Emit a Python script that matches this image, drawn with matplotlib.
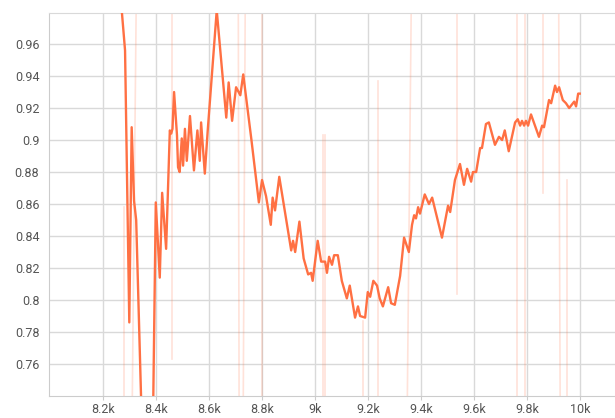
import matplotlib
matplotlib.use("Agg")
import matplotlib.pyplot as plt

plt.rcParams['font.family'] = ['Roboto', 'DejaVu Sans']

# smoothed curve (step, value)
steps = [8266, 8283, 8299, 8308, 8317, 8325, 8375, 8399, 8414, 8423,
         8438, 8452, 8457, 8462, 8468, 8479, 8483, 8489, 8497, 8502,
         8509, 8516, 8528, 8543, 8556, 8565, 8570, 8584, 8595, 8629,
         8665, 8674, 8687, 8702, 8718, 8729, 8760, 8788, 8800, 8815,
         8833, 8840, 8849, 8865, 8910, 8917, 8925, 8941, 8957, 8974,
         8985, 8991, 9010, 9023, 9038, 9045, 9053, 9064, 9072, 9086,
         9101, 9120, 9131, 9151, 9162, 9170, 9189, 9199, 9208, 9220,
         9234, 9244, 9256, 9276, 9287, 9301, 9321, 9336, 9354, 9366,
         9374, 9381, 9389, 9396, 9414, 9430, 9442, 9479, 9502, 9510,
         9528, 9547, 9562, 9574, 9589, 9596, 9608, 9623, 9630, 9645,
         9656, 9679, 9694, 9706, 9716, 9731, 9755, 9765, 9774, 9781,
         9789, 9796, 9804, 9815, 9845, 9857, 9864, 9883, 9891, 9906,
         9913, 9921, 9935, 9947, 9959, 9978, 9985, 9993, 9999]
values = [0.990, 0.956, 0.786, 0.908, 0.862, 0.850, 0.550, 0.861, 0.814, 0.867,
          0.832, 0.906, 0.904, 0.907, 0.930, 0.903, 0.883, 0.880, 0.901, 0.884,
          0.907, 0.887, 0.915, 0.881, 0.906, 0.887, 0.911, 0.879, 0.906, 0.981,
          0.914, 0.936, 0.912, 0.933, 0.928, 0.941, 0.900, 0.861, 0.875, 0.865,
          0.847, 0.864, 0.856, 0.877, 0.831, 0.837, 0.830, 0.849, 0.826, 0.816,
          0.817, 0.812, 0.837, 0.824, 0.824, 0.817, 0.827, 0.822, 0.828, 0.828,
          0.812, 0.801, 0.809, 0.789, 0.796, 0.790, 0.789, 0.805, 0.802, 0.812,
          0.809, 0.801, 0.796, 0.808, 0.798, 0.797, 0.815, 0.839, 0.830, 0.847,
          0.853, 0.851, 0.858, 0.854, 0.866, 0.860, 0.864, 0.839, 0.859, 0.855,
          0.875, 0.885, 0.872, 0.882, 0.874, 0.880, 0.880, 0.895, 0.895, 0.910,
          0.911, 0.897, 0.902, 0.900, 0.906, 0.893, 0.911, 0.913, 0.909, 0.912,
          0.909, 0.912, 0.909, 0.916, 0.902, 0.909, 0.908, 0.925, 0.923, 0.934,
          0.930, 0.933, 0.925, 0.923, 0.920, 0.924, 0.921, 0.929, 0.929]

# faint raw outliers: segments (x0, x1, y0, y1)
raw_x0 = [8279, 8302, 8460, 8709, 8740, 8800, 9030, 9038, 9181, 9238, 9340, 9536, 9762, 9792, 9860, 9917, 9951]
raw_x1 = [8279, 8332, 8460, 8715, 8725, 8800, 9030, 9038, 9181, 9238, 9370, 9536, 9762, 9792, 9860, 9928, 9951]
raw_y0 = [0.858, 0.60, 1.10, 1.10, 1.10, 1.10, 0.903, 0.903, 0.787, 0.937, 0.60, 1.10, 1.10, 1.10, 1.10, 1.10, 0.875]
raw_y1 = [0.60, 1.10, 0.763, 0.60, 0.60, 0.60, 0.60, 0.60, 0.60, 0.60, 1.10, 0.804, 0.60, 0.60, 0.867, 0.60, 0.60]

xticks = [8200, 8400, 8600, 8800, 9000, 9200, 9400, 9600, 9800, 10000]
xlabels = ['8.2k', '8.4k', '8.6k', '8.8k', '9k', '9.2k', '9.4k', '9.6k', '9.8k', '10k']
yticks = [0.76, 0.78, 0.8, 0.82, 0.84, 0.86, 0.88, 0.9, 0.92, 0.94, 0.96]
ylabels = ['0.76', '0.78', '0.8', '0.82', '0.84', '0.86', '0.88', '0.9', '0.92', '0.94', '0.96']

fig = plt.figure(figsize=(6.15, 4.18), dpi=100)
ax = fig.add_axes([49/615, 1 - 396/418, 1 - 49/615, (396 - 13)/418])

for i in range(len(raw_x0)):
    ax.plot([raw_x0[i], raw_x1[i]], [raw_y0[i], raw_y1[i]], color='#ff7043',
            alpha=0.2, lw=1.2, zorder=2)
ax.plot(steps, values, color='#ff7043', lw=1.7, zorder=3)

ax.set_xlim(7996, 10132)
ax.set_ylim(0.74, 0.9794)
ax.set_xticks(xticks)
ax.set_xticklabels(xlabels)
ax.set_yticks(yticks)
ax.set_yticklabels(ylabels)
ax.grid(True, color='#d9d9d9', lw=1, zorder=0)
ax.tick_params(axis='x', length=3, color='#cccccc', labelsize=9, labelcolor='#555555', pad=2)
ax.tick_params(axis='y', length=0, labelsize=9, labelcolor='#555555', pad=7)
ax.spines['right'].set_visible(False)
ax.spines['top'].set_color('#d9d9d9')
ax.spines['left'].set_color('#cccccc')
ax.spines['bottom'].set_color('#cccccc')

fig.savefig('out.png', dpi=100)
